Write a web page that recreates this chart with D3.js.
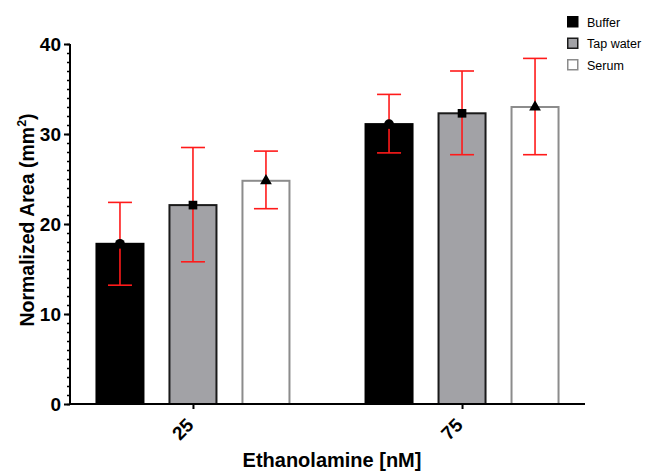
<!DOCTYPE html>
<html>
<head>
<meta charset="utf-8">
<script src="https://cdn.jsdelivr.net/npm/d3@7"></script>
<style>
  body { margin: 0; background: #fff; }
  svg { font-family: Arial, "Liberation Sans", sans-serif; }
</style>
</head>
<body>
<div class="canvas"></div>
<script>
// data
const doses = ['25', '75'];
const series = ['Buffer', 'Tap water', 'Serum'];
const means = {
  'Buffer':    [17.8, 31.1],
  'Tap water': [22.1, 32.3],
  'Serum':     [24.8, 33.0]
};
const errLow = {
  'Buffer':    [13.2, 27.9],
  'Tap water': [15.8, 27.7],
  'Serum':     [21.7, 27.7]
};
const errHigh = {
  'Buffer':    [22.4, 34.4],
  'Tap water': [28.5, 37.0],
  'Serum':     [28.1, 38.4]
};
const yTicks = [0, 10, 20, 30, 40];

const styles = {
  'Buffer':    { fill: '#000', stroke: '#000', marker: d3.symbolCircle },
  'Tap water': { fill: '#a2a2a6', stroke: '#1a1a1a', marker: d3.symbolSquare },
  'Serum':     { fill: '#fff', stroke: '#8c8c8c', marker: d3.symbolTriangle }
};

const W = 646, H = 473;
const svg = d3.select('.canvas').append('svg')
  .attr('width', W).attr('height', H);

// scales
const x = d3.scalePoint().domain(doses).range([70, 585]).padding(0.457);
const xs = d3.scaleBand().domain(series).range([-96.5, 96.5])
  .paddingInner(0.356).paddingOuter(0);
const y = d3.scaleLinear().domain([0, 40]).range([404, 44]);

// rows for drawing
const rows = [];
doses.forEach((d, i) => series.forEach(s => rows.push({
  dose: d, s: s, v: means[s][i], lo: errLow[s][i], hi: errHigh[s][i]
})));

// bars
svg.append('g').selectAll('rect')
  .data(rows).enter().append('rect')
  .attr('x', d => x(d.dose) + xs(d.s))
  .attr('y', d => y(d.v))
  .attr('width', xs.bandwidth())
  .attr('height', d => y(0) - y(d.v))
  .attr('fill', d => styles[d.s].fill)
  .attr('stroke', d => styles[d.s].stroke)
  .attr('stroke-width', 2);

// error bars
const eb = svg.append('g').attr('stroke', '#ff1a1a').attr('stroke-width', 1.6);
const cx = d => x(d.dose) + xs(d.s) + xs.bandwidth() / 2;
eb.selectAll('.v').data(rows).enter().append('line')
  .attr('x1', cx).attr('x2', cx)
  .attr('y1', d => y(d.lo)).attr('y2', d => y(d.hi));
['lo', 'hi'].forEach(k => {
  eb.selectAll('.c' + k).data(rows).enter().append('line')
    .attr('x1', d => cx(d) - 12).attr('x2', d => cx(d) + 12)
    .attr('y1', d => y(d[k])).attr('y2', d => y(d[k]));
});

// markers
svg.append('g').selectAll('path')
  .data(rows).enter().append('path')
  .attr('transform', d => `translate(${cx(d)},${y(d.v)})`)
  .attr('d', d => d3.symbol().type(styles[d.s].marker).size(d.s === 'Serum' ? 60 : 75)())
  .attr('fill', '#000');

// y axis
const yAxis = svg.append('g').attr('transform', 'translate(70,0)');
yAxis.call(d3.axisLeft(y).tickValues(d3.range(0, 41, 1)).tickSize(3).tickFormat(''))
  .call(g => g.selectAll('line').attr('stroke-width', 1.5));
yAxis.append('g')
  .call(d3.axisLeft(y).tickValues(yTicks).tickSize(6).tickPadding(3))
  .call(g => g.select('.domain').remove())
  .call(g => g.selectAll('line').attr('stroke-width', 2))
  .call(g => g.selectAll('text').attr('font-size', 19).attr('font-weight', 'bold')
    .attr('fill', '#000').attr('font-family', 'Arial, "Liberation Sans", sans-serif'));
yAxis.select('.domain').attr('stroke-width', 2).attr('d', `M0,${y(40)}V${y(0)}`);

// x axis
const xAxis = svg.append('g').attr('transform', `translate(0,${y(0)})`);
xAxis.call(d3.axisBottom(x).tickSize(5).tickSizeOuter(0))
  .call(g => g.select('.domain').attr('stroke-width', 2))
  .call(g => g.selectAll('line').attr('stroke-width', 2))
  .call(g => g.selectAll('text')
    .attr('font-size', 19).attr('font-weight', 'bold').attr('fill', '#000')
    .attr('font-family', 'Arial, "Liberation Sans", sans-serif')
    .attr('text-anchor', 'end').attr('dy', '0.35em')
    .attr('transform', 'translate(-9,12) rotate(-45)'));
xAxis.select('.domain').attr('d', `M70,0H585`);

// axis titles
svg.append('text')
  .attr('transform', 'translate(34,220) rotate(-90)')
  .attr('text-anchor', 'middle')
  .attr('font-size', 19.5).attr('font-weight', 'bold')
  .text('Normalized Area (mm')
  .append('tspan').attr('font-size', 12.5).attr('dy', -8).text('2')
  .select(function () { return this.parentNode; })
  .append('tspan').attr('dy', 8).text(')');

svg.append('text')
  .attr('x', 332).attr('y', 467)
  .attr('text-anchor', 'middle')
  .attr('font-size', 20).attr('font-weight', 'bold')
  .text('Ethanolamine [nM]');

// legend
const legend = svg.append('g').attr('transform', 'translate(567,16)');
series.forEach((s, i) => {
  const g = legend.append('g').attr('transform', `translate(0,${i * 21.5})`);
  g.append('rect').attr('x', 0.75).attr('y', 0.75).attr('width', 10).attr('height', 10)
    .attr('fill', styles[s].fill).attr('stroke', styles[s].stroke).attr('stroke-width', 1.5);
  g.append('text').attr('x', 20).attr('y', 10.5)
    .attr('font-size', 12.5).text(s);
});
</script>
</body>
</html>
